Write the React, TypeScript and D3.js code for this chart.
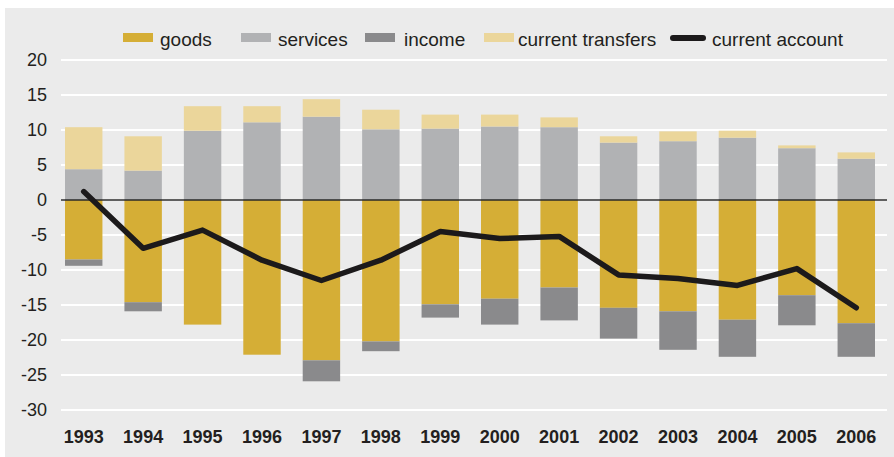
import React, { useEffect, useRef } from 'react';
import * as d3 from 'd3';

// balance of payments components, %
const years = ['1993', '1994', '1995', '1996', '1997', '1998', '1999', '2000', '2001', '2002', '2003', '2004', '2005', '2006'];
const goods = [-8.5, -14.6, -17.8, -22.1, -22.9, -20.2, -14.9, -14.1, -12.5, -15.4, -15.9, -17.1, -13.6, -17.6];
const services = [4.4, 4.2, 9.9, 11.1, 11.9, 10.1, 10.2, 10.5, 10.4, 8.2, 8.4, 8.9, 7.4, 5.9];
const income = [-0.9, -1.3, 0, 0, -3.0, -1.4, -1.9, -3.7, -4.7, -4.4, -5.5, -5.3, -4.3, -4.8];
const transfers = [6.0, 4.9, 3.5, 2.3, 2.5, 2.8, 2.0, 1.7, 1.4, 0.9, 1.4, 1.0, 0.4, 0.9];
const currentAccount = [1.2, -6.9, -4.3, -8.6, -11.5, -8.6, -4.5, -5.5, -5.2, -10.7, -11.2, -12.2, -9.8, -15.4];
const yTicks = [20, 15, 10, 5, 0, -5, -10, -15, -20, -25, -30];

const seriesKeys = ['goods', 'services', 'income', 'transfers'];
const seriesLabels: Record<string, string> = {
  goods: 'goods',
  services: 'services',
  income: 'income',
  transfers: 'current transfers',
};
const colors: Record<string, string> = {
  goods: '#d5ae36',
  services: '#b1b2b4',
  income: '#8a8a8c',
  transfers: '#ebd69b',
};

const FONT = '"Liberation Sans", Arial, sans-serif';

export default function App() {
  const ref = useRef<SVGSVGElement>(null);

  useEffect(() => {
    const width = 894;
    const height = 457;
    const svg = d3.select(ref.current);
    svg.selectAll('*').remove();
    svg.attr('width', width).attr('height', height);

    // background panel
    svg.append('rect')
      .attr('x', 5).attr('y', 8)
      .attr('width', width - 5).attr('height', height - 8)
      .attr('fill', '#ebebeb');

    const x = d3.scaleBand()
      .domain(years)
      .range([54, 886])
      .paddingInner(0.37)
      .paddingOuter(0.185);

    const y = d3.scaleLinear()
      .domain([-30, 20])
      .range([410, 60]);

    // grid
    svg.append('g')
      .selectAll('line')
      .data(yTicks)
      .enter()
      .append('line')
      .attr('x1', 61)
      .attr('x2', 887)
      .attr('y1', (d) => y(d))
      .attr('y2', (d) => y(d))
      .attr('stroke', '#ffffff')
      .attr('stroke-width', 2);

    // y labels
    svg.append('g')
      .selectAll('text')
      .data(yTicks)
      .enter()
      .append('text')
      .attr('x', 47)
      .attr('y', (d) => y(d))
      .attr('dy', '0.35em')
      .attr('text-anchor', 'end')
      .attr('font-family', FONT)
      .attr('font-size', 18)
      .attr('fill', '#231f20')
      .text((d) => d);

    // stacked bars
    const table = years.map((yr, i) => ({
      year: yr,
      goods: goods[i],
      services: services[i],
      income: income[i],
      transfers: transfers[i],
    }));
    const stacked = d3.stack<any>()
      .keys(seriesKeys)
      .offset(d3.stackOffsetDiverging)(table);

    svg.append('g')
      .selectAll('g')
      .data(stacked)
      .enter()
      .append('g')
      .attr('fill', (s) => colors[s.key])
      .selectAll('rect')
      .data((s) => s)
      .enter()
      .append('rect')
      .attr('x', (d: any) => x(d.data.year) as number)
      .attr('width', x.bandwidth())
      .attr('y', (d) => y(Math.max(d[0], d[1])))
      .attr('height', (d) => Math.abs(y(d[0]) - y(d[1])));

    // zero line
    svg.append('line')
      .attr('x1', 61)
      .attr('x2', 887)
      .attr('y1', y(0))
      .attr('y2', y(0))
      .attr('stroke', '#2a2a2a')
      .attr('stroke-width', 1.5);

    // current account line
    const line = d3.line<number>()
      .x((d, i) => (x(years[i]) as number) + x.bandwidth() / 2)
      .y((d) => y(d));
    svg.append('path')
      .datum(currentAccount)
      .attr('d', line)
      .attr('fill', 'none')
      .attr('stroke', '#1c1a1b')
      .attr('stroke-width', 5.5)
      .attr('stroke-linejoin', 'round')
      .attr('stroke-linecap', 'round');

    // year labels
    svg.append('g')
      .selectAll('text')
      .data(years)
      .enter()
      .append('text')
      .attr('x', (d) => (x(d) as number) + x.bandwidth() / 2)
      .attr('y', 443)
      .attr('text-anchor', 'middle')
      .attr('font-family', FONT)
      .attr('font-weight', 'bold')
      .attr('font-size', 18)
      .attr('fill', '#231f20')
      .text((d) => d);

    // legend
    const legendX = [123, 241, 365, 484];
    const legendTextX = [160, 278, 404, 518];
    const legend = svg.append('g');
    seriesKeys.forEach((k, i) => {
      legend.append('rect')
        .attr('x', legendX[i]).attr('y', 33)
        .attr('width', 30).attr('height', 9)
        .attr('fill', colors[k]);
      legend.append('text')
        .attr('x', legendTextX[i]).attr('y', 39)
        .attr('dy', '0.35em')
        .attr('font-family', FONT)
        .attr('font-size', 19)
        .attr('fill', '#231f20')
        .text(seriesLabels[k]);
    });
    legend.append('line')
      .attr('x1', 673).attr('x2', 703)
      .attr('y1', 38).attr('y2', 38)
      .attr('stroke', '#1c1a1b')
      .attr('stroke-width', 6)
      .attr('stroke-linecap', 'round');
    legend.append('text')
      .attr('x', 712).attr('y', 39)
      .attr('dy', '0.35em')
      .attr('font-family', FONT)
      .attr('font-size', 19)
      .attr('fill', '#231f20')
      .text('current account');
  }, []);

  return (
    <svg ref={ref} style={{ position: 'absolute', left: 0, top: 0, display: 'block' }} />
  );
}
